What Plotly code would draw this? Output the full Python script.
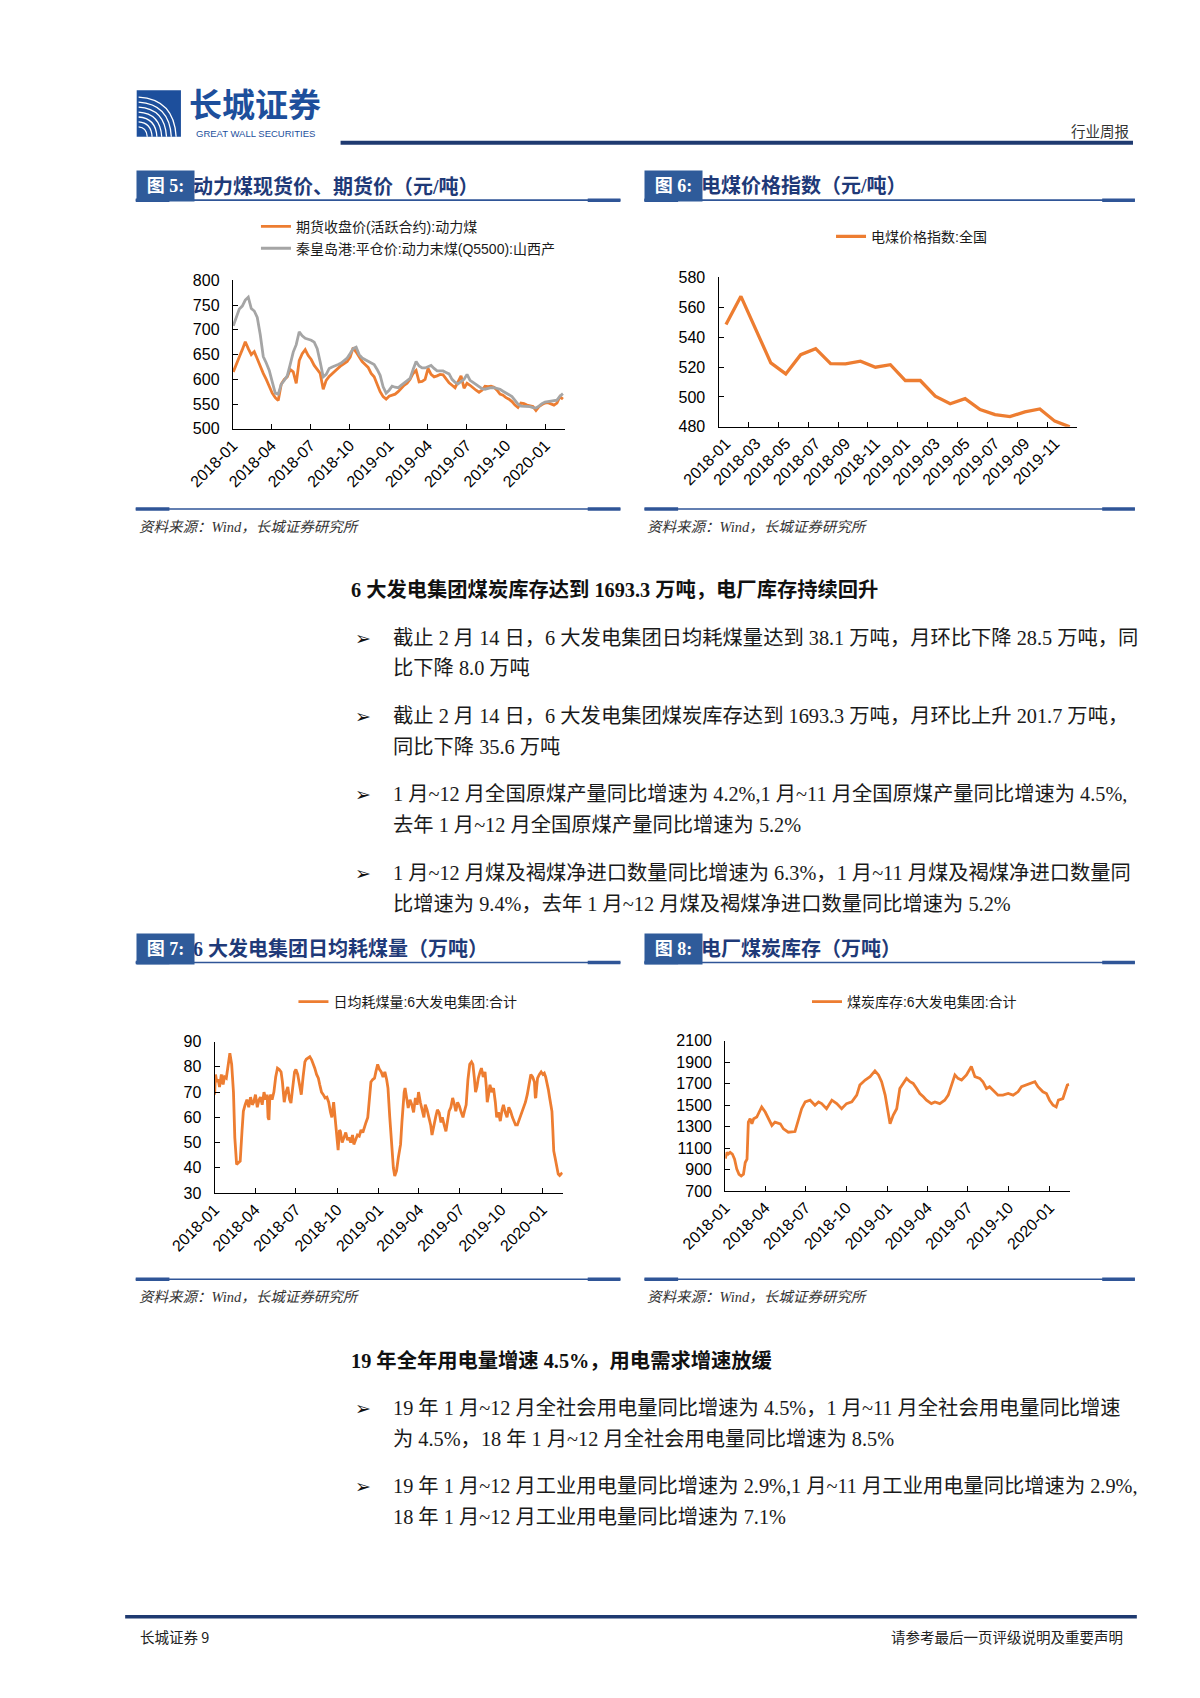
import plotly.graph_objects as go
import pandas as pd

W, H = 1200, 1698
ORANGE = "#ED7D31"
GRAY = "#A5A5A5"
NAVY = "#1F3A70"
LINEBLUE = "#2F5597"
BOXBLUE = "#2F5B9A"
TITLEBLUE = "#1F3A78"

# ---------------- data ----------------
# Fig 5: weekly samples starting 2018-01-02
f5_start = "2018-01-02"
f5_fut = [615, 632, 645, 660, 676, 662, 650, 656, 640, 624,
          612, 600, 585, 572, 563, 557, 590, 600, 605, 620,
          615, 592, 638, 652, 660, 648, 640, 628, 620, 612,
          580, 598, 606, 612, 618, 622, 628, 632, 636, 645,
          664, 655, 645, 636, 630, 624, 612, 605, 590, 575,
          565, 560, 566, 568, 570, 575, 582, 588, 592, 600,
          612, 618, 595, 596, 600, 622, 610, 605, 607, 610,
          609, 600, 593, 588, 583, 595, 607, 582, 592, 588,
          582, 578, 574, 578, 586, 585, 586, 584, 578, 570,
          568, 563, 560, 555, 548, 543, 552, 551, 548, 547,
          545, 537, 545, 549, 552, 553, 550, 548, 552, 565,
          560]
f5_spot = [708, 727, 742, 748, 760, 766, 743, 738, 725, 690,
           646, 633, 618, 595, 572, 570, 590, 598, 607, 630,
           655, 670, 696, 688, 683, 681, 679, 675, 662, 635,
           605, 610, 622, 625, 627, 630, 633, 638, 643, 652,
           662, 665, 650, 643, 640, 637, 633, 630, 620, 608,
           585, 572, 578, 586, 584, 583, 588, 593, 597, 602,
           620, 636, 627, 623, 623, 625, 628, 622, 617, 617,
           617, 614, 611, 600, 594, 591, 595, 600, 610, 598,
           594, 590, 585, 581, 580, 582, 583, 583, 582, 580,
           576, 573, 569, 565, 558, 550, 546, 546, 546, 545,
           543, 542, 546, 551, 554, 555, 556, 557, 558, 566,
           571]
f5_name_fut = "期货收盘价(活跃合约):动力煤"
f5_name_spot = "秦皇岛港:平仓价:动力末煤(Q5500):山西产"

# Fig 6: monthly index
f6_months = ["2018-01", "2018-02", "2018-03", "2018-04", "2018-05", "2018-06",
             "2018-07", "2018-08", "2018-09", "2018-10", "2018-11", "2018-12",
             "2019-01", "2019-02", "2019-03", "2019-04", "2019-05", "2019-06",
             "2019-07", "2019-08", "2019-09", "2019-10", "2019-11", "2019-12"]
f6_vals = [548.4, 567.3, 545.0, 522.8, 515.4, 528.3, 532.3, 522.3, 522.1, 523.9,
           519.9, 521.6, 511.0, 511.0, 500.5, 495.4, 498.9, 491.6, 488.2, 486.9,
           490.0, 492.0, 483.8, 480.0]
f6_name = "电煤价格指数:全国"

# Fig 7: days since 2018-01-01, daily coal consumption
f7_day = [0, 2, 5, 8, 11, 15, 19, 22, 26, 30, 34, 38, 42, 45, 49, 53, 57, 61, 64, 68,
          72, 76, 80, 84, 87, 91, 95, 99, 102, 106, 110, 114, 117, 119, 121, 123, 125, 128, 132, 136,
          140, 144, 148, 151, 155, 159, 163, 167, 170, 174, 178, 181, 185, 189, 193, 197, 201, 204, 208, 212,
          216, 220, 223, 227, 231, 234, 238, 242, 246, 250, 254, 258, 261, 265, 269, 272, 275, 278, 280, 284,
          288, 292, 296, 299, 303, 307, 310, 314, 318, 322, 326, 330, 333, 337, 341, 345, 348, 352, 356, 359,
          363, 367, 371, 375, 379, 383, 386, 390, 394, 398, 401, 405, 409, 412, 414, 417, 419, 422, 424, 428,
          431, 435, 439, 443, 447, 451, 454, 458, 462, 466, 469, 473, 477, 481, 484, 488, 492, 496, 500, 504,
          507, 511, 515, 519, 522, 526, 530, 534, 537, 541, 545, 549, 553, 557, 560, 564, 568, 572, 575, 578,
          581, 584, 587, 591, 594, 598, 602, 605, 607, 610, 613, 617, 621, 625, 628, 632, 636, 640, 643, 647,
          651, 655, 659, 663, 666, 670, 674, 678, 681, 685, 689, 692, 696, 700, 704, 708, 712, 714, 715, 717,
          719, 723, 727, 731, 734, 737, 740, 743, 746, 749, 751, 753, 755, 758, 761, 763, 765, 768, 770, 772,
          774]
f7_val = [69, 77, 74, 75, 72, 77, 73, 76, 75.5, 81, 85.4, 81, 70, 52, 41.4, 42, 42.7, 54.5, 62.4, 65,
          67, 64, 68, 65, 66, 69, 64, 67, 68, 65, 70, 67, 69, 60, 59, 68, 69, 67, 70, 76,
          79.5, 79, 78, 74, 66, 70, 72, 67, 65.7, 72, 78, 79, 77, 73, 69, 76, 82, 83, 83.4, 84,
          82.8, 81, 79.5, 77, 75.5, 73, 70, 69, 67.7, 68, 66, 62, 60, 66, 57, 52, 47, 55, 54.5, 50,
          52, 54, 51, 52, 50, 53, 49.3, 51, 53, 52.6, 55, 54, 56, 58, 60, 68, 74, 75, 75.5, 78,
          81, 79, 78, 76, 78, 75, 71.6, 60, 48, 40, 36.8, 38.8, 44, 47, 49.3, 58, 65, 70, 71.6, 66,
          63.7, 67, 65, 62, 67.7, 65, 70, 66, 62.4, 60, 65, 63, 60, 57, 53, 57, 60, 63, 61.8, 58,
          60, 57, 54.5, 59, 62.4, 64, 67.7, 65, 62.4, 66, 64.4, 62, 60, 63, 65, 75, 81, 82, 81, 76,
          70, 72, 75.5, 78, 79.5, 76, 78, 72, 66, 69, 72.9, 70, 71.6, 66, 60, 62, 58.5, 63, 65, 62,
          60, 64, 62.4, 60, 58.5, 57, 57, 59, 60, 62, 63.7, 66, 69, 73, 77, 76, 74, 68, 67.7, 72,
          75.5, 77, 78, 77, 77.5, 76, 74, 71, 67.7, 65, 62.4, 55, 46.7, 44, 41.4, 39, 37.5, 37, 37.5, 38,
          38.1]
f7_name = "日均耗煤量:6大发电集团:合计"

# Fig 8: days since 2018-01-01, coal inventory
f8_day = [0, 4, 7, 11, 16, 21, 26, 31, 36, 41, 45, 49, 52, 56, 60, 64, 71, 77, 82, 90,
          97, 105, 112, 124, 131, 142, 157, 165, 172, 180, 191, 202, 210, 217, 228, 240, 251, 262, 273, 285,
          296, 303, 315, 326, 337, 345, 352, 360, 366, 371, 378, 386, 393, 401, 408, 416, 423, 431, 438, 446,
          453, 464, 472, 483, 494, 502, 509, 517, 524, 532, 543, 551, 554, 562, 573, 580, 588, 595, 603, 614,
          625, 637, 648, 659, 667, 678, 689, 697, 704, 715, 723, 730, 738, 745, 750, 760, 765, 770, 774]
f8_val = [1002, 1060, 1045, 1060, 1045, 998, 904, 857, 841, 857, 966, 998, 1342, 1373, 1326, 1373, 1389, 1436, 1483, 1436,
          1373, 1311, 1342, 1326, 1279, 1248, 1254, 1373, 1467, 1530, 1546, 1499, 1530, 1514, 1467, 1546, 1514, 1467, 1514, 1530,
          1593, 1687, 1734, 1765, 1818, 1781, 1718, 1593, 1436, 1326, 1405, 1467, 1655, 1702, 1749, 1718, 1702, 1655, 1608, 1577,
          1546, 1514, 1530, 1514, 1546, 1593, 1687, 1781, 1749, 1734, 1781, 1843, 1859, 1765, 1749, 1718, 1655, 1671, 1640, 1593,
          1593, 1608, 1593, 1624, 1671, 1687, 1702, 1718, 1671, 1624, 1608, 1546, 1499, 1483, 1546, 1561, 1624, 1687, 1693]
f8_name = "煤炭库存:6大发电集团:合计"

quarter_ticks = ["2018-01-01", "2018-04-01", "2018-07-01", "2018-10-01", "2019-01-01",
                 "2019-04-01", "2019-07-01", "2019-10-01", "2020-01-01"]
quarter_labels = ["2018-01", "2018-04", "2018-07", "2018-10", "2019-01",
                  "2019-04", "2019-07", "2019-10", "2020-01"]

# ---------------- helpers ----------------
def X(p):
    return p / W


def Y(p):
    return 1 - p / H


base = pd.Timestamp("2018-01-01")
f5_dates = pd.date_range(f5_start, periods=len(f5_fut), freq="7D")
f7_dates = [base + pd.Timedelta(days=d) for d in f7_day]
f8_dates = [base + pd.Timedelta(days=d) for d in f8_day]
f6_pos = list(range(len(f6_months)))

AX_FONT = dict(family="Liberation Sans, Arial, Noto Sans CJK SC", size=16, color="#000")
LEG_FONT = dict(family="Liberation Sans, Noto Sans CJK SC", size=14, color="#1a1a1a")
CN = "Liberation Serif, Noto Sans CJK SC"
LW = 2.8

fig = go.Figure()

# Fig 5
fig.add_trace(go.Scatter(x=f5_dates, y=f5_fut, mode="lines", name=f5_name_fut,
                         line=dict(color=ORANGE, width=LW), xaxis="x", yaxis="y", legend="legend"))
fig.add_trace(go.Scatter(x=f5_dates, y=f5_spot, mode="lines", name=f5_name_spot,
                         line=dict(color=GRAY, width=LW), xaxis="x", yaxis="y", legend="legend5"))
# Fig 6
fig.add_trace(go.Scatter(x=f6_pos, y=f6_vals, mode="lines", name=f6_name,
                         line=dict(color=ORANGE, width=3.3), xaxis="x2", yaxis="y2", legend="legend2"))
fig.add_trace(go.Scatter(x=[], y=[], mode="lines", showlegend=False, xaxis="x5", yaxis="y2"))
# Fig 7
fig.add_trace(go.Scatter(x=f7_dates, y=f7_val, mode="lines", name=f7_name,
                         line=dict(color=ORANGE, width=LW), xaxis="x3", yaxis="y3", legend="legend3"))
# Fig 8
fig.add_trace(go.Scatter(x=f8_dates, y=f8_val, mode="lines", name=f8_name,
                         line=dict(color=ORANGE, width=LW), xaxis="x4", yaxis="y4", legend="legend4"))


def yax(domain, rng, dtick):
    return dict(domain=[Y(domain[1]), Y(domain[0])], range=rng, dtick=dtick, tick0=rng[0],
                showline=True, linecolor="#000", linewidth=1.2, ticks="inside", ticklen=5,
                tickcolor="#000", tickwidth=1.2, showgrid=False, zeroline=False, tickfont=AX_FONT,
                ticklabelstandoff=9, fixedrange=True)


def xdate(domain, anchor):
    return dict(domain=[X(domain[0]), X(domain[1])], type="date",
                range=["2018-01-01", "2020-02-15"], tickmode="array",
                tickvals=quarter_ticks, ticktext=quarter_labels, tickangle=-45,
                showline=True, linecolor="#000", linewidth=1.2, ticks="inside", ticklen=5,
                tickcolor="#000", tickwidth=1.2, showgrid=False, zeroline=False,
                tickfont=AX_FONT, anchor=anchor, fixedrange=True)


f5_dom_x, f5_dom_y = (186, 531), (267, 417)
f6_dom_x, f6_dom_y = (691, 1064), (264, 415)
f7_dom_x, f7_dom_y = (167, 529), (1036, 1189)
f8_dom_x, f8_dom_y = (698, 1056), (1035, 1187)

f6_label_pos = f6_pos[::2]
f6_label_txt = f6_months[::2]
f6_bound = [p - 0.5 for p in f6_pos[::2]] + [f6_pos[-1] + 0.5]

layout = dict(
    width=W, height=H, margin=dict(l=0, r=0, t=0, b=0), showlegend=True,
    paper_bgcolor="white", plot_bgcolor="rgba(0,0,0,0)",
    xaxis=xdate(f5_dom_x, "y"),
    yaxis=yax(f5_dom_y, [500, 800], 50) | dict(anchor="x"),
    xaxis2=dict(domain=[X(f6_dom_x[0]), X(f6_dom_x[1])], range=[-0.5, len(f6_months) - 0.5],
                tickmode="array", tickvals=f6_label_pos, ticktext=f6_label_txt, tickangle=-45,
                showline=True, linecolor="#000", linewidth=1.2, ticks="", showgrid=False,
                zeroline=False, tickfont=AX_FONT, anchor="y2", fixedrange=True),
    xaxis5=dict(overlaying="x2", anchor="y2", range=[-0.5, len(f6_months) - 0.5],
                tickmode="array", tickvals=f6_bound, ticks="inside", ticklen=5, tickcolor="#000",
                tickwidth=1.2, showticklabels=False, showline=False, showgrid=False,
                zeroline=False, fixedrange=True),
    yaxis2=yax(f6_dom_y, [480, 580], 20) | dict(anchor="x2"),
    xaxis3=xdate(f7_dom_x, "y3"),
    yaxis3=yax(f7_dom_y, [30, 90], 10) | dict(anchor="x3"),
    xaxis4=xdate(f8_dom_x, "y4"),
    yaxis4=yax(f8_dom_y, [700, 2100], 200) | dict(anchor="x4"),
)


def leg(xp, yp):
    return dict(x=X(xp), y=Y(yp), xanchor="left", yanchor="middle", bgcolor="rgba(0,0,0,0)",
                font=LEG_FONT, borderwidth=0, orientation="h", itemwidth=30, visible=True)


layout["legend"] = leg(210, 213)
layout["legend5"] = leg(210, 235)
layout["legend2"] = leg(808, 223)
layout["legend3"] = leg(249, 996)
layout["legend4"] = leg(783, 996)
fig.update_layout(**layout)

ann = []
shapes = []


def text(x, y, t, size, color="#1a1a1a", family=CN, anchor="left", **kw):
    ann.append(dict(x=X(x), y=Y(y), xref="paper", yref="paper", text=t, showarrow=False,
                    xanchor=anchor, yanchor="middle", font=dict(family=family, size=size, color=color),
                    **kw))


def hline(x0, x1, y, width, color):
    shapes.append(dict(type="line", xref="paper", yref="paper", x0=X(x0), x1=X(x1),
                       y0=Y(y), y1=Y(y), line=dict(color=color, width=width)))


# ----- header -----
shapes.append(dict(type="rect", xref="paper", yref="paper", x0=X(86), x1=X(132), y0=Y(122), y1=Y(75),
                   fillcolor="#1D4F9C", line=dict(width=0)))
for k in range(7):
    r = 12 + k * 5
    cx, cy = 85, 124
    x0, y0 = cx, cy - r
    x1, y1 = cx + r, cy
    qx, qy = cx + r * 0.95, cy - r * 0.95
    path = "M {:.5f},{:.5f} Q {:.5f},{:.5f} {:.5f},{:.5f}".format(X(x0 + 3), Y(y0), X(qx), Y(qy), X(x1), Y(y1 - 2))
    shapes.append(dict(type="path", xref="paper", yref="paper", path=path,
                       line=dict(color="white", width=1.3)))
text(138, 88, "<b>长城证券</b>", 33, color="#1D4F9C", family="Noto Sans CJK SC")
text(146, 119, "GREAT WALL SECURITIES", 9.5, color="#1D4F9C", family="Liberation Sans")
hline(298, 1122, 128, 4, NAVY)
text(1120, 116, "行业周报", 14.5, color="#333", family="Noto Sans CJK SC", anchor="right")


# ----- figure title bars -----
def title_bar(x0, x1, y, num, title):
    hline(x0, x1, y + 14, 1.6, LINEBLUE)
    hline(x0, x0 + 35, y + 14, 3.5, LINEBLUE)
    hline(x1 - 34, x1, y + 14, 3.5, LINEBLUE)
    text(x0 + 57, y, "<b>" + title + "</b>", 20, color=TITLEBLUE, family=CN)
    ann.append(dict(x=X(x0), y=Y(y), xref="paper", yref="paper", text="<b>图 " + num + ":</b>",
                    showarrow=False, xanchor="left", yanchor="middle", width=55, height=28,
                    bgcolor=BOXBLUE, align="center",
                    font=dict(family=CN, size=18, color="white")))


def bottom_bar(x0, x1, y, src_y):
    hline(x0, x1, y, 1.6, LINEBLUE)
    hline(x0, x0 + 35, y, 3.5, LINEBLUE)
    hline(x1 - 34, x1, y, 3.5, LINEBLUE)
    text(x0 + 1, src_y, "<i>资料来源：Wind，长城证券研究所</i>", 14.5, color="#333", family=CN)


title_bar(85, 589, 172, "5", "动力煤现货价、期货价（元/吨）")
title_bar(614, 1124, 172, "6", "电煤价格指数（元/吨）")
bottom_bar(85, 589, 498, 516)
bottom_bar(614, 1124, 498, 516)
title_bar(85, 589, 942, "7", "6 大发电集团日均耗煤量（万吨）")
title_bar(614, 1124, 942, "8", "电厂煤炭库存（万吨）")
bottom_bar(85, 589, 1276, 1294)
bottom_bar(614, 1124, 1276, 1294)

# ----- body text -----
BODY = 20.3
text(307, 580, "<b>6 大发电集团煤炭库存达到 1693.3 万吨，电厂库存持续回升</b>", BODY, color="#111")
bullets1 = [
    ("截止 2 月 14 日，6 大发电集团日均耗煤量达到 38.1 万吨，月环比下降 28.5 万吨，同", "比下降 8.0 万吨", 628),
    ("截止 2 月 14 日，6 大发电集团煤炭库存达到 1693.3 万吨，月环比上升 201.7 万吨，", "同比下降 35.6 万吨", 707),
    ("1 月~12 月全国原煤产量同比增速为 4.2%,1 月~11 月全国原煤产量同比增速为 4.5%,", "去年 1 月~12 月全国原煤产量同比增速为 5.2%", 786),
    ("1 月~12 月煤及褐煤净进口数量同比增速为 6.3%，1 月~11 月煤及褐煤净进口数量同", "比增速为 9.4%，去年 1 月~12 月煤及褐煤净进口数量同比增速为 5.2%", 866),
]
text(307, 1358, "<b>19 年全年用电量增速 4.5%，用电需求增速放缓</b>", BODY, color="#111")
bullets2 = [
    ("19 年 1 月~12 月全社会用电量同比增速为 4.5%，1 月~11 月全社会用电量同比增速", "为 4.5%，18 年 1 月~12 月全社会用电量同比增速为 8.5%", 1406),
    ("19 年 1 月~12 月工业用电量同比增速为 2.9%,1 月~11 月工业用电量同比增速为 2.9%,", "18 年 1 月~12 月工业用电量同比增速为 7.1%", 1485),
]
for l1, l2, yy in bullets1 + bullets2:
    text(311, yy, "➢", 19, color="#111", family="DejaVu Sans")
    text(350, yy, l1, BODY)
    text(350, yy + 31, l2, BODY)

# ----- footer -----
hline(74, 1126, 1617, 3.5, NAVY)
text(87, 1637, "长城证券 9", 14.5, color="#222", family="Noto Sans CJK SC")
text(1114, 1637, "请参考最后一页评级说明及重要声明", 14.5, color="#222", family="Noto Sans CJK SC", anchor="right")

fig.update_layout(annotations=ann, shapes=shapes)
fig.write_html("out.html")
